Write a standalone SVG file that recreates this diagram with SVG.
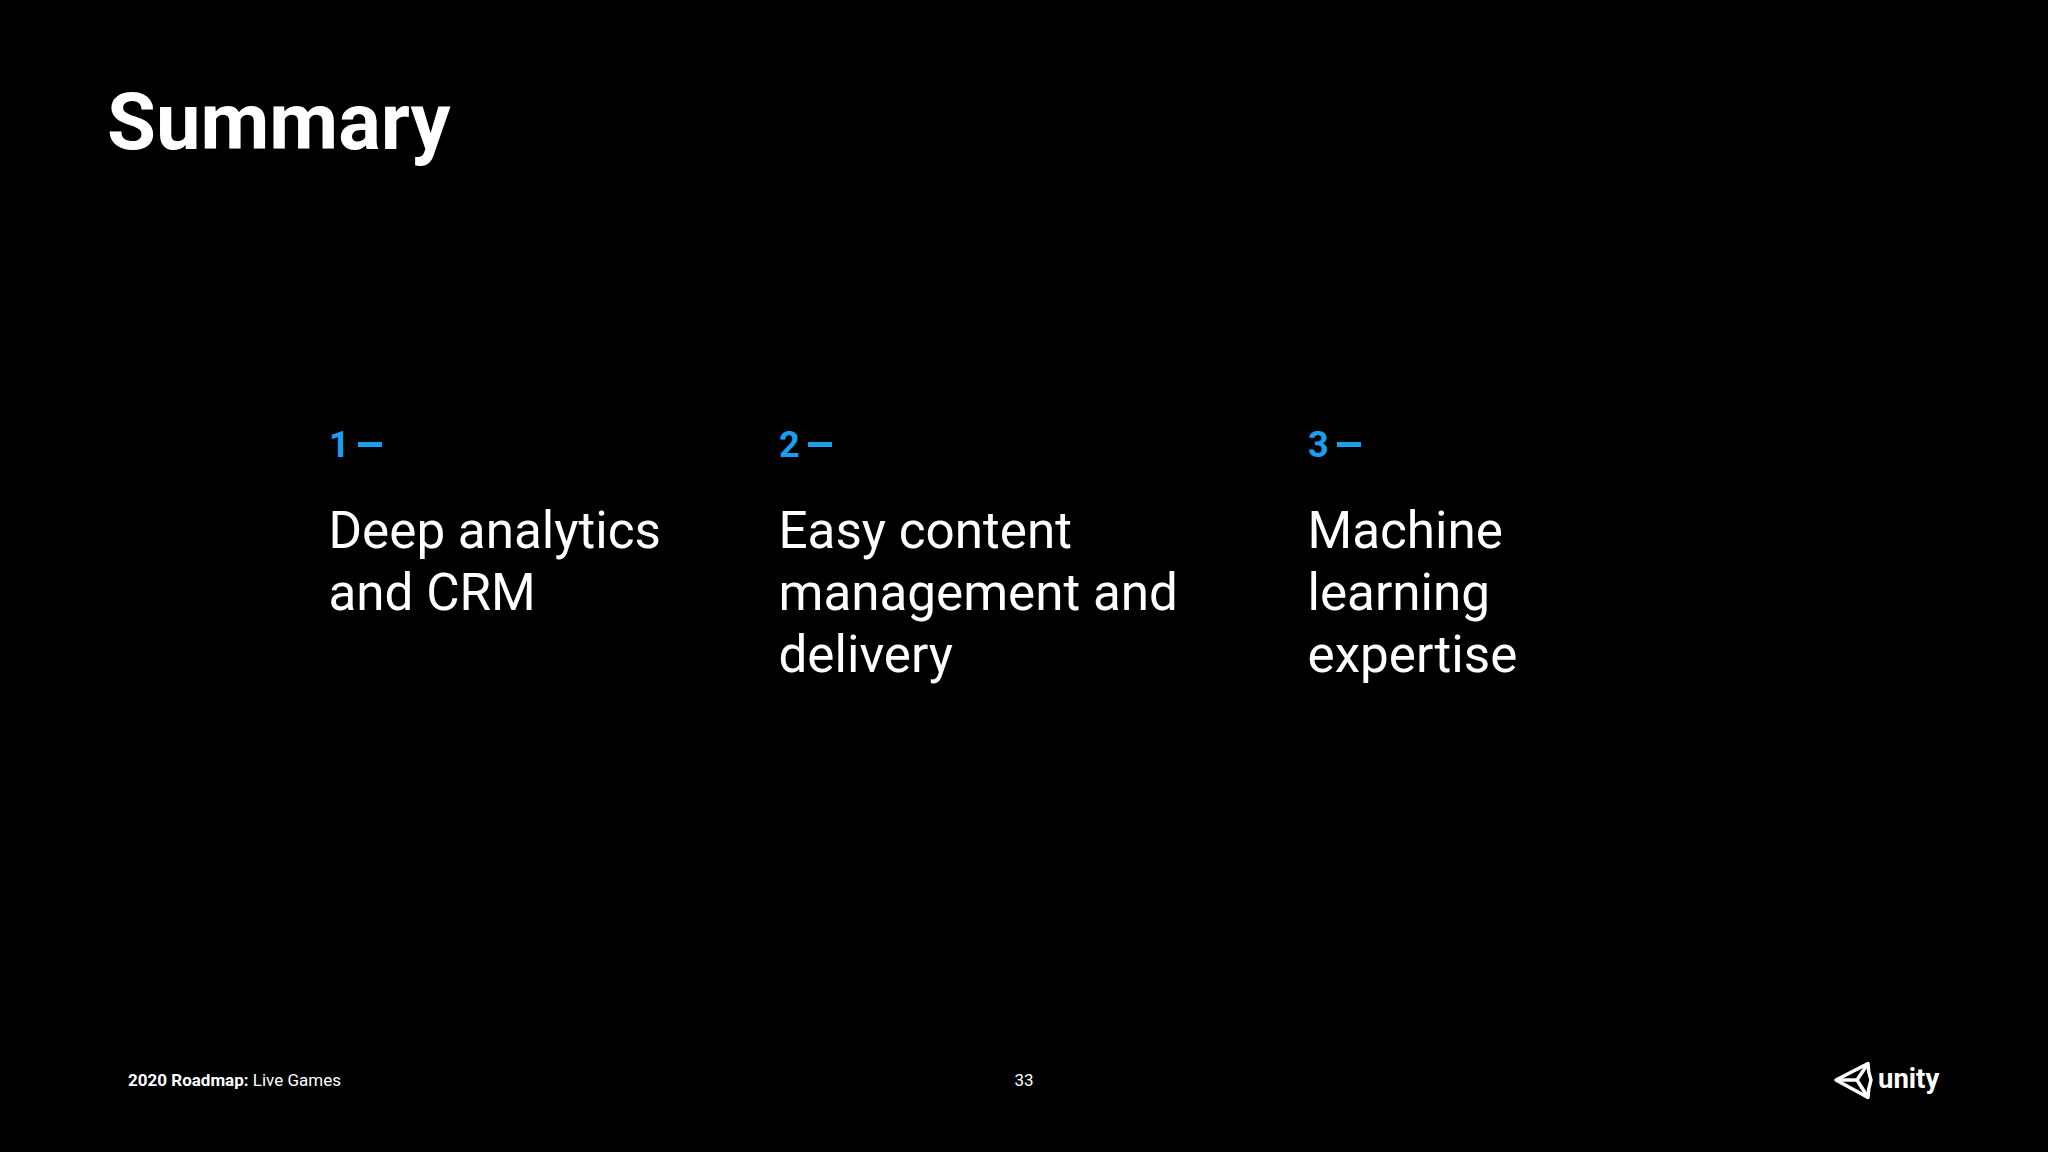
<svg xmlns="http://www.w3.org/2000/svg" width="2048" height="1152" viewBox="0 0 2048 1152">
<style>
.h{font-family:Roboto,sans-serif;font-weight:700;font-size:79.5px;fill:#fff}
.n{font-family:Roboto,sans-serif;font-weight:700;font-size:36px;fill:#1a9fee}
.b{font-family:Roboto,sans-serif;font-weight:400;font-size:51.200px;fill:#fff}
.f{font-family:Roboto,sans-serif;font-size:17px;fill:#fff}
.d{fill:#1a9fee}
.c{fill:none;stroke:#fff;stroke-width:3.5;stroke-linejoin:round}
</style>
<rect width="2048" height="1152" fill="#000"/>
<text class="h" x="107" y="149">Summary</text>
<g id="item1"><text class="n" x="329" y="457">1</text><rect class="d" x="358" y="442" width="24" height="5"/>
<text class="b" x="328.500" y="548">Deep analytics</text><text class="b" x="328.500" y="610">and CRM</text></g>
<g id="item2"><text class="n" x="779" y="457">2</text><rect class="d" x="808" y="442" width="24" height="5"/>
<text class="b" x="778.500" y="548">Easy content</text><text class="b" x="778.500" y="610">management and</text><text class="b" x="778.500" y="672">delivery</text></g>
<g id="item3"><text class="n" x="1308" y="457">3</text><rect class="d" x="1337" y="442" width="24" height="5"/>
<text class="b" x="1307.500" y="548">Machine</text><text class="b" x="1307.500" y="610">learning</text><text class="b" x="1307.500" y="672">expertise</text></g>
<text class="f" x="128" y="1085.500"><tspan font-weight="700">2020 Roadmap:</tspan> Live Games</text>
<text class="f" x="1024" y="1085.500" text-anchor="middle">33</text>
<g id="logo">
<path class="c" d="M1836 1080L1868 1063.500Q1868 1072 1871 1080Q1868 1089 1868 1097.500Z"/>
<path class="c" d="M1836 1080H1857L1868 1063.500M1857 1080L1868 1097.500"/>
<text x="1878" y="1088" font-family="Roboto,sans-serif" font-weight="700" font-size="27.500" fill="#fff">unity</text>
</g>
</svg>
